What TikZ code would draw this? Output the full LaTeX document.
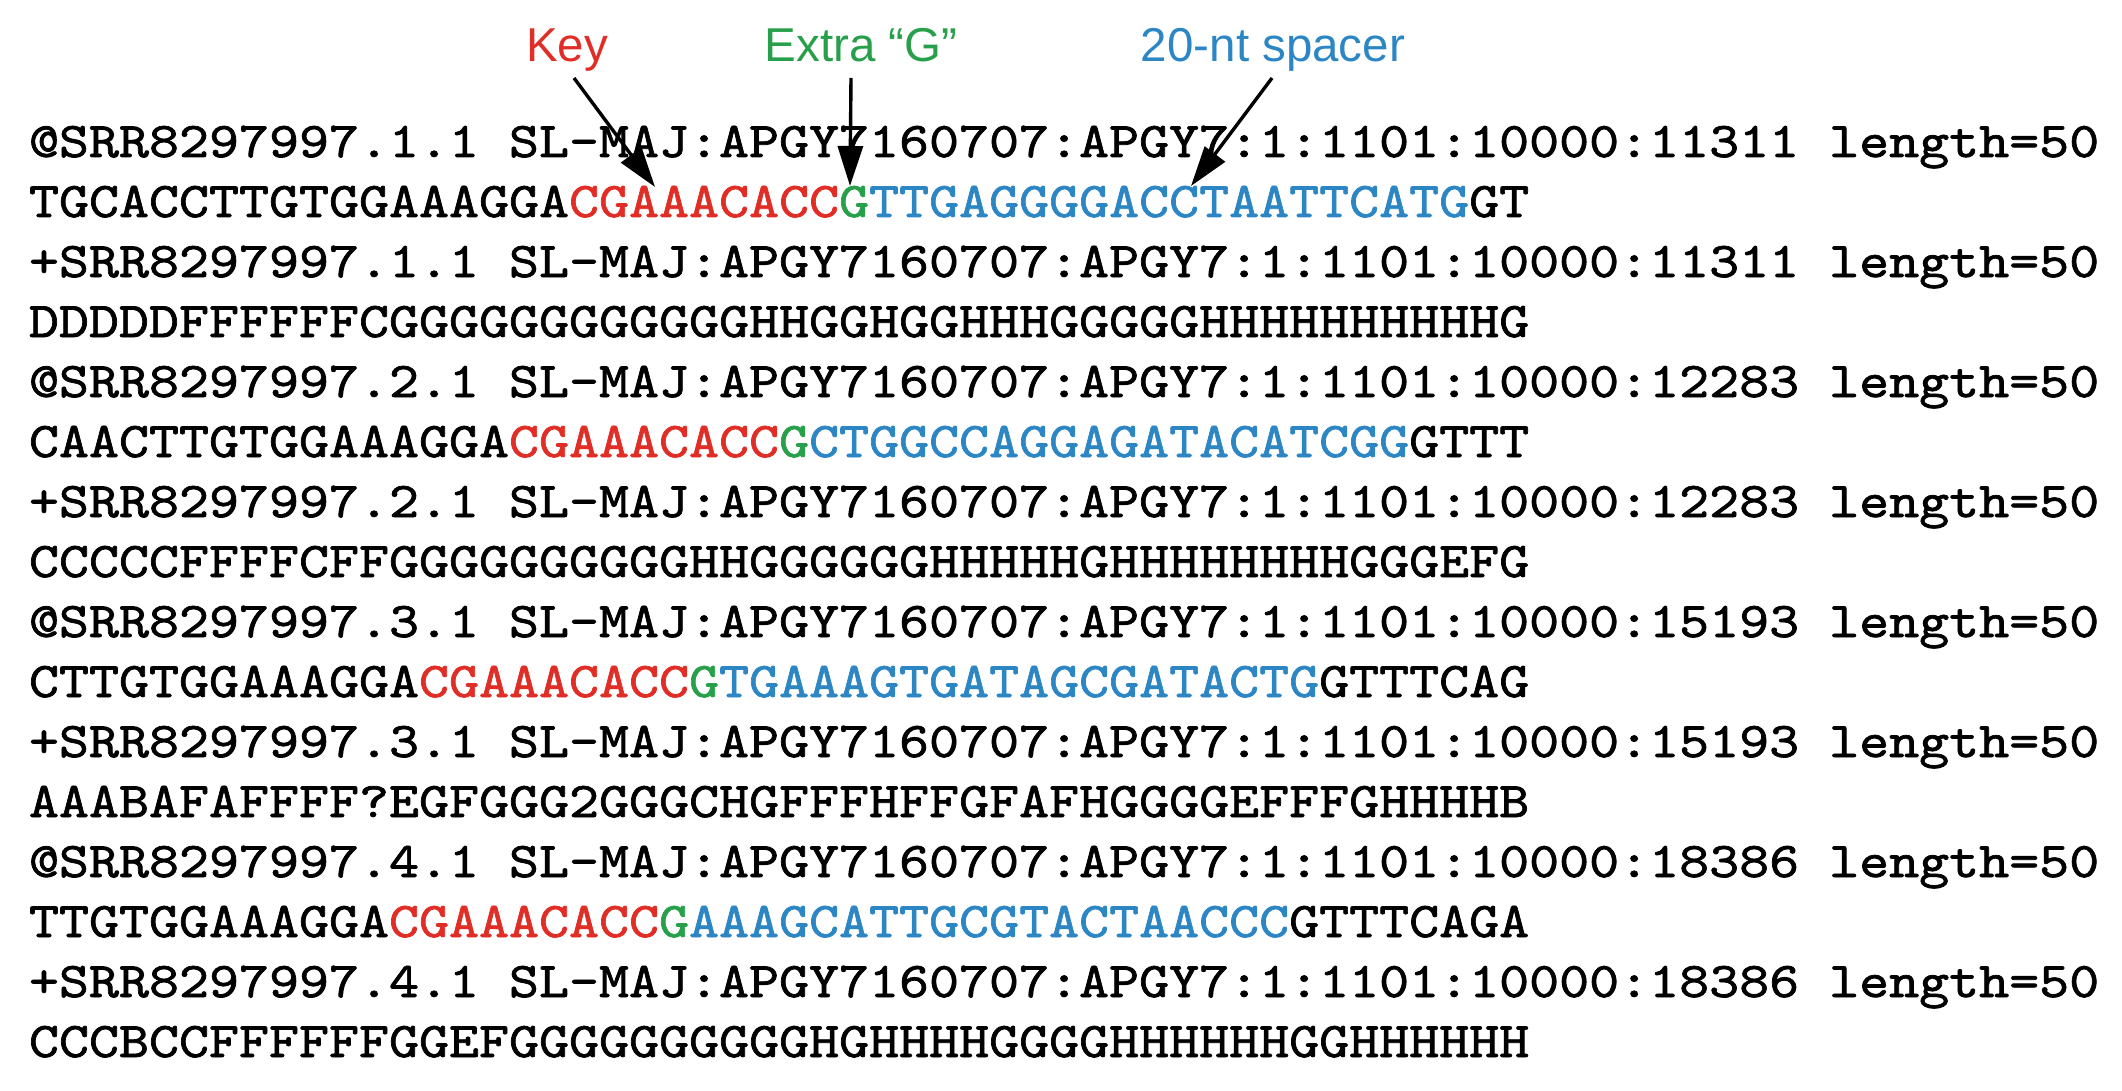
\documentclass[tikz,border=0pt]{standalone}
\usepackage{fontspec}
\setmainfont{Liberation Sans}
\newfontfamily\seqfont[FakeStretch=1.143,FakeBold=1.4]{lmmono10-regular.otf}
\usetikzlibrary{arrows.meta}
\definecolor{keyred}{RGB}{224,45,38}
\definecolor{ggreen}{RGB}{40,160,75}
\definecolor{spblue}{RGB}{44,134,196}
\newcommand{\kR}[1]{\textcolor{keyred}{#1}}
\newcommand{\gG}[1]{\textcolor{ggreen}{#1}}
\newcommand{\sB}[1]{\textcolor{spblue}{#1}}
\begin{document}
\begin{tikzpicture}[x=1pt,y=-1pt,
  seqline/.style={anchor=base west,inner sep=0pt,outer sep=0pt,
    font=\seqfont\fontsize{50}{60}\selectfont},
  lbl/.style={anchor=base,inner sep=0pt,outer sep=0pt,
    font=\fontsize{47.5}{57}\selectfont},
  arr/.style={line width=3.4pt,-{Triangle[length=40pt,width=25pt]}}]
\useasboundingbox (0,0) rectangle (2122,1091);
% labels
\node[lbl,text=keyred] (key) at (567,62) {Key};
\node[lbl,text=ggreen] (extra) at (861,62) {Extra “G”};
\node[lbl,text=spblue] (spacer) at (1273,62) {20-nt spacer};
% sequence lines
\def\xz{29}
\node[seqline] (l1) at (\xz,157) {@SRR8297997.1.1 SL-MAJ:APGY7160707:APGY7:1:1101:10000:11311 length=50};
\node[seqline] (l2) at (\xz,217) {TGCACCTTGTGGAAAGGA\kR{CGAAACACC}\gG{G}\sB{TTGAGGGGACCTAATTCATG}GT};
\node[seqline] (l3) at (\xz,277) {+SRR8297997.1.1 SL-MAJ:APGY7160707:APGY7:1:1101:10000:11311 length=50};
\node[seqline] (l4) at (\xz,337) {DDDDDFFFFFFCGGGGGGGGGGGGHHGGHGGHHHGGGGGHHHHHHHHHHG};
\node[seqline] (l5) at (\xz,397) {@SRR8297997.2.1 SL-MAJ:APGY7160707:APGY7:1:1101:10000:12283 length=50};
\node[seqline] (l6) at (\xz,457) {CAACTTGTGGAAAGGA\kR{CGAAACACC}\gG{G}\sB{CTGGCCAGGAGATACATCGG}GTTT};
\node[seqline] (l7) at (\xz,517) {+SRR8297997.2.1 SL-MAJ:APGY7160707:APGY7:1:1101:10000:12283 length=50};
\node[seqline] (l8) at (\xz,577) {CCCCCFFFFCFFGGGGGGGGGGHHGGGGGGHHHHHGHHHHHHHHGGGEFG};
\node[seqline] (l9) at (\xz,637) {@SRR8297997.3.1 SL-MAJ:APGY7160707:APGY7:1:1101:10000:15193 length=50};
\node[seqline] (l10) at (\xz,697) {CTTGTGGAAAGGA\kR{CGAAACACC}\gG{G}\sB{TGAAAGTGATAGCGATACTG}GTTTCAG};
\node[seqline] (l11) at (\xz,757) {+SRR8297997.3.1 SL-MAJ:APGY7160707:APGY7:1:1101:10000:15193 length=50};
\node[seqline] (l12) at (\xz,817) {AAABAFAFFFF?EGFGGG2GGGCHGFFFHFFGFAFHGGGGEFFFGHHHHB};
\node[seqline] (l13) at (\xz,877) {@SRR8297997.4.1 SL-MAJ:APGY7160707:APGY7:1:1101:10000:18386 length=50};
\node[seqline] (l14) at (\xz,937) {TTGTGGAAAGGA\kR{CGAAACACC}\gG{G}\sB{AAAGCATTGCGTACTAACCC}GTTTCAGA};
\node[seqline] (l15) at (\xz,997) {+SRR8297997.4.1 SL-MAJ:APGY7160707:APGY7:1:1101:10000:18386 length=50};
\node[seqline] (l16) at (\xz,1057) {CCCBCCFFFFFFGGEFGGGGGGGGGGHGHHHHGGGGHHHHHHGGHHHHHH};
% arrow ends
\coordinate (keytail) at (574,78);
\coordinate (keytip) at (655,187);
\coordinate (gtail) at (851,78);
\coordinate (gtip) at (850,186);
\coordinate (sptail) at (1272,78);
\coordinate (sptip) at (1191,186);
\draw[arr] (keytail) -- (keytip);
\draw[arr] (gtail) -- (gtip);
\draw[arr] (sptail) -- (sptip);
\end{tikzpicture}
\end{document}
